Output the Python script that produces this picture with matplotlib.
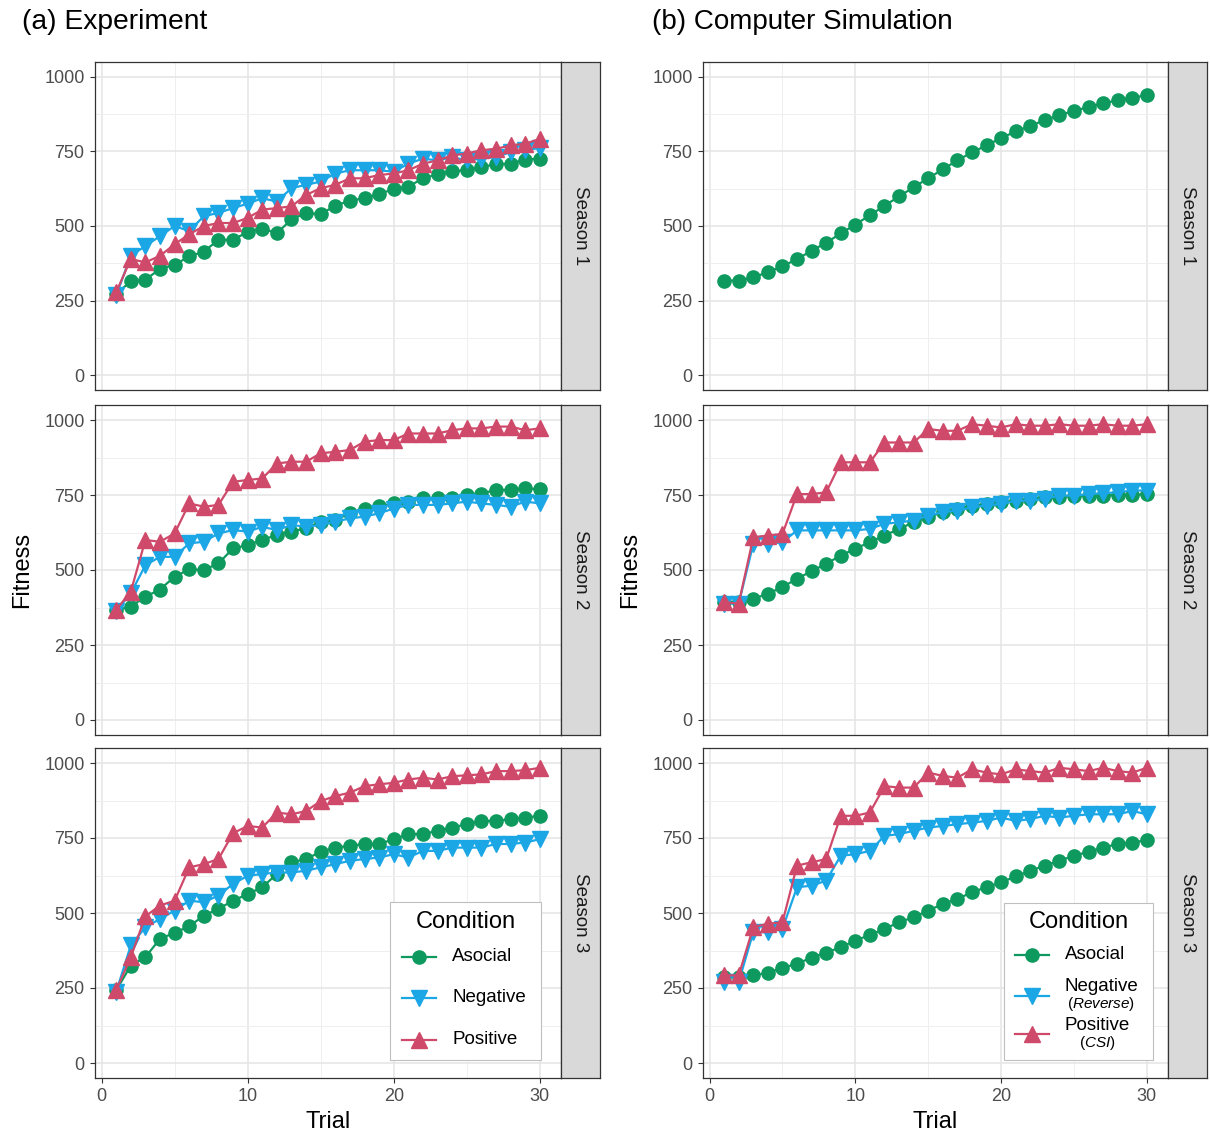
import matplotlib
matplotlib.use('Agg')
import matplotlib.pyplot as plt
from matplotlib.lines import Line2D
from matplotlib.offsetbox import TextArea, VPacker, HPacker, DrawingArea, AnchoredOffsetbox

plt.rcParams['font.family'] = ['Liberation Sans', 'DejaVu Sans']
plt.rcParams['mathtext.fontset'] = 'custom'
plt.rcParams['mathtext.it'] = 'Liberation Sans:italic'
plt.rcParams['mathtext.rm'] = 'Liberation Sans'

trials = list(range(1, 31))
seasons = ['Season 1', 'Season 2', 'Season 3']
conditions = ['Asocial', 'Negative', 'Positive']
exp_sublabels = {'Asocial': None, 'Negative': None, 'Positive': None}
sim_sublabels = {'Asocial': None, 'Negative': '($\\mathit{Reverse}$)', 'Positive': '($\\mathit{CSI}$)'}

# ---- (a) Experiment ----
exp_s1_asocial = [273, 314, 320, 356, 370, 398, 414, 454, 454, 480, 491, 476, 522, 544, 540,
                  568, 585, 593, 608, 623, 632, 660, 673, 684, 687, 698, 707, 709, 723, 726]
exp_s1_negative = [267, 400, 433, 466, 500, 483, 533, 544, 560, 575, 593, 582, 627, 638, 649,
                   676, 687, 687, 687, 682, 709, 726, 720, 731, 720, 726, 731, 748, 754, 762]
exp_s1_positive = [278, 389, 378, 400, 439, 472, 500, 510, 510, 527, 555, 560, 566, 604, 627,
                   638, 660, 660, 671, 676, 687, 709, 720, 737, 743, 754, 759, 770, 776, 792]

exp_s2_asocial = [367, 378, 411, 435, 478, 502, 500, 522, 572, 583, 600, 617, 628, 639, 661,
                  667, 689, 705, 713, 722, 728, 739, 739, 739, 750, 755, 767, 767, 772, 769]
exp_s2_negative = [364, 422, 516, 544, 544, 589, 594, 622, 633, 628, 644, 633, 650, 644, 650,
                   661, 672, 678, 689, 705, 717, 717, 717, 722, 728, 722, 717, 711, 728, 722]
exp_s2_positive = [367, 428, 600, 594, 622, 722, 711, 717, 794, 800, 805, 855, 861, 861, 889,
                   894, 900, 928, 933, 933, 955, 955, 955, 966, 972, 972, 978, 978, 966, 972]

exp_s3_asocial = [242, 325, 353, 414, 434, 456, 491, 514, 541, 563, 586, 630, 669, 680, 704,
                  718, 724, 730, 730, 746, 763, 763, 774, 785, 796, 807, 807, 813, 818, 824]
exp_s3_negative = [237, 392, 453, 480, 508, 541, 536, 558, 597, 624, 630, 635, 635, 641, 652,
                   663, 674, 680, 685, 696, 685, 707, 707, 718, 718, 718, 730, 730, 735, 746]
exp_s3_positive = [242, 353, 489, 525, 541, 652, 663, 680, 766, 790, 785, 835, 829, 840, 873,
                   890, 901, 923, 929, 934, 945, 951, 945, 956, 959, 962, 973, 973, 976, 984]

exp_error = 12  # approximate standard error shown by the small vertical bars

# ---- (b) Computer simulation ----
sim_s1_asocial = [317, 317, 328, 345, 365, 389, 417, 444, 475, 505, 536, 568, 599, 630, 660,
                  690, 720, 747, 770, 795, 817, 836, 855, 872, 886, 899, 911, 922, 930, 939]

sim_s2_asocial = [393, 393, 404, 421, 443, 471, 496, 521, 548, 571, 593, 615, 637, 659, 676,
                  693, 704, 715, 720, 726, 731, 737, 742, 742, 748, 748, 748, 750, 750, 753]
sim_s2_negative = [388, 388, 587, 587, 593, 632, 632, 632, 632, 632, 637, 654, 659, 665, 681,
                   693, 698, 709, 715, 720, 731, 731, 737, 748, 748, 753, 756, 759, 765, 765]
sim_s2_positive = [393, 388, 609, 615, 620, 753, 753, 759, 859, 859, 859, 925, 925, 925, 970,
                   964, 964, 986, 981, 975, 986, 981, 981, 986, 981, 981, 986, 981, 981, 986]

sim_s3_asocial = [287, 287, 292, 301, 317, 331, 351, 368, 386, 408, 427, 447, 469, 486, 508,
                  530, 547, 569, 586, 602, 622, 641, 658, 674, 691, 704, 718, 730, 735, 743]
sim_s3_negative = [270, 270, 436, 436, 447, 586, 591, 608, 691, 696, 707, 757, 763, 774, 785,
                   790, 796, 801, 807, 818, 807, 813, 824, 818, 824, 829, 829, 829, 840, 829]
sim_s3_positive = [292, 292, 453, 464, 469, 658, 669, 680, 824, 824, 835, 923, 918, 918, 968,
                   957, 951, 979, 968, 962, 979, 973, 968, 984, 979, 973, 984, 973, 968, 984]

experiment = [
    {'Asocial': exp_s1_asocial, 'Negative': exp_s1_negative, 'Positive': exp_s1_positive},
    {'Asocial': exp_s2_asocial, 'Negative': exp_s2_negative, 'Positive': exp_s2_positive},
    {'Asocial': exp_s3_asocial, 'Negative': exp_s3_negative, 'Positive': exp_s3_positive},
]
simulation = [
    {'Asocial': sim_s1_asocial},
    {'Asocial': sim_s2_asocial, 'Negative': sim_s2_negative, 'Positive': sim_s2_positive},
    {'Asocial': sim_s3_asocial, 'Negative': sim_s3_negative, 'Positive': sim_s3_positive},
]

colors = {'Asocial': '#0E9A5E', 'Negative': '#1BA6E6', 'Positive': '#CF4A6A'}
markers = {'Asocial': 'o', 'Negative': 'v', 'Positive': '^'}
msizes = {'Asocial': 9.5, 'Negative': 11, 'Positive': 11}

W, H = 1210, 1134
fig = plt.figure(figsize=(W / 100, H / 100), dpi=100)


def px_axes(x0, y0, x1, y1):
    return fig.add_axes([x0 / W, 1 - y1 / H, (x1 - x0) / W, (y1 - y0) / H])


def make_legend(ax, anchor, sublabels, title_sep, sep1, sep2, pad, hw, gap, lspace, rspace):
    hh = 16.0
    rows_b = []
    for cond in conditions:
        da = DrawingArea(hw, hh, 0, 0)
        da.add_artist(Line2D([0, hw], [hh / 2, hh / 2], color=colors[cond], lw=1.6))
        da.add_artist(Line2D([hw / 2], [hh / 2], color=colors[cond], marker=markers[cond],
                             ms=msizes[cond], linestyle='none'))
        parts = [TextArea(cond, textprops=dict(fontsize=13.5, color='black'))]
        if sublabels[cond]:
            parts.append(TextArea(sublabels[cond], textprops=dict(fontsize=11, color='black')))
        lab = VPacker(children=parts, align='center', pad=0, sep=0)
        rows_b.append(HPacker(children=[da, lab], align='center', pad=0, sep=gap))
    lower = VPacker(children=rows_b[1:], align='left', pad=0, sep=sep2)
    entries = VPacker(children=[rows_b[0], lower], align='left', pad=0, sep=sep1)
    entries = HPacker(children=[DrawingArea(lspace, 1), entries, DrawingArea(rspace, 1)],
                      align='center', pad=0, sep=0)
    title = TextArea('Condition', textprops=dict(fontsize=17, color='black'))
    box = VPacker(children=[title, entries], align='center', pad=0, sep=title_sep)
    anch = AnchoredOffsetbox(loc='lower right', child=box, pad=pad, borderpad=0,
                             prop=dict(size=10), frameon=True, bbox_to_anchor=anchor,
                             bbox_transform=ax.transAxes)
    anch.patch.set_edgecolor('#BFBFBF')
    anch.patch.set_facecolor('white')
    anch.patch.set_linewidth(0.8)
    anch.set_zorder(5)
    ax.add_artist(anch)


rows = [(62, 390), (405, 735), (748, 1078)]
cols = [(95, 561, 600), (703, 1168, 1207)]
panels = [experiment, simulation]

for c, (cx0, cx1, cx2) in enumerate(cols):
    for r, (ry0, ry1) in enumerate(rows):
        ax = px_axes(cx0, ry0, cx1, ry1)
        st = px_axes(cx1, ry0, cx2, ry1)
        ax.set_xlim(-0.45, 31.45)
        ax.set_ylim(-50, 1050)
        ax.set_xticks([0, 10, 20, 30])
        ax.set_xticks([5, 15, 25], minor=True)
        ax.set_yticks([0, 250, 500, 750, 1000])
        ax.set_yticks([125, 375, 625, 875], minor=True)
        ax.grid(which='major', color='#E6E6E6', lw=1.2)
        ax.grid(which='minor', color='#EFEFEF', lw=0.7)
        ax.set_axisbelow(True)
        for sp in ax.spines.values():
            sp.set_color('#333333')
            sp.set_linewidth(0.9)
        ax.tick_params(which='major', length=3.5, width=0.8, color='#333333',
                       labelcolor='#4D4D4D', labelsize=13, pad=4)
        ax.tick_params(which='minor', length=0)
        if r < 2:
            ax.tick_params(axis='x', which='both', bottom=False, labelbottom=False)

        data = panels[c][r]
        for cond in conditions:
            if cond not in data:
                continue
            vals = data[cond]
            if c == 0:
                ax.errorbar(trials, vals, yerr=exp_error, fmt='none', ecolor=colors[cond],
                            elinewidth=1.3, capsize=0)
            ax.plot(trials, vals, color=colors[cond], lw=1.6, marker=markers[cond],
                    ms=msizes[cond], label=cond)

        st.set_facecolor('#D9D9D9')
        st.set_xticks([])
        st.set_yticks([])
        for sp in st.spines.values():
            sp.set_color('#333333')
            sp.set_linewidth(0.9)
        st.text(0.5, 0.5, seasons[r], rotation=270, ha='center', va='center',
                fontsize=13.5, color='#1A1A1A', transform=st.transAxes)

        if r == 2:
            if c == 0:
                make_legend(ax, (0.957, 0.0545), exp_sublabels, title_sep=9,
                            sep1=13.3, sep2=14.5, pad=0.65, hw=24.5, gap=11.5,
                            lspace=2.2, rspace=4.3)
            else:
                make_legend(ax, (0.968, 0.0545), sim_sublabels, title_sep=7.5,
                            sep1=8.8, sep2=2.5, pad=0.6, hw=24.5, gap=11.5,
                            lspace=1.5, rspace=4.7)

fig.text(22 / W, 1 - 22 / H, '(a) Experiment', fontsize=20.3, ha='left', va='center')
fig.text(652 / W, 1 - 22 / H, '(b) Computer Simulation', fontsize=20, ha='left', va='center')
fig.text(22 / W, 1 - 570 / H, 'Fitness', fontsize=17, rotation=90, ha='center', va='center')
fig.text(630 / W, 1 - 570 / H, 'Fitness', fontsize=17, rotation=90, ha='center', va='center')
fig.text(328 / W, 1 - 1122 / H, 'Trial', fontsize=17, ha='center', va='center')
fig.text(935 / W, 1 - 1122 / H, 'Trial', fontsize=17, ha='center', va='center')

fig.savefig('out.png', dpi=100)
